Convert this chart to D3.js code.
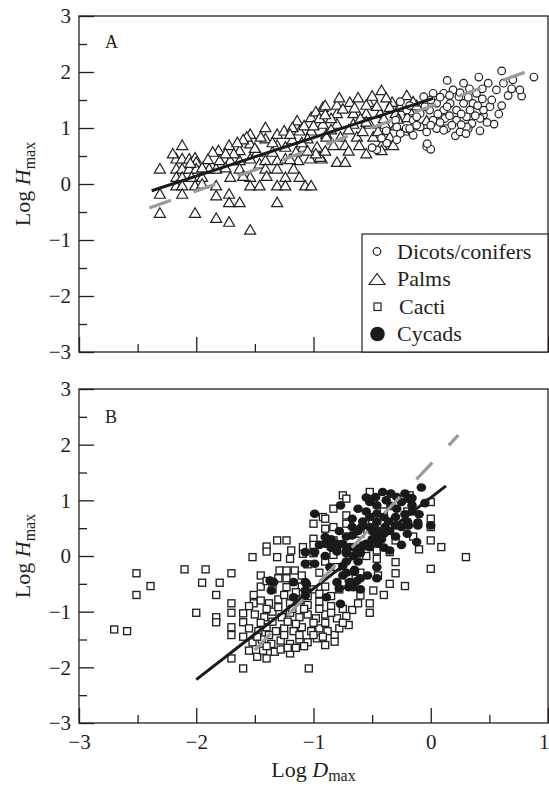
<!DOCTYPE html>
<html>
<head>
<meta charset="utf-8">
<script src="https://cdn.jsdelivr.net/npm/d3@7"></script>
<style>
  body { margin: 0; background: #fff; }
  text { font-family: "Liberation Serif", "Times New Roman", serif; fill: #231f20; }
</style>
</head>
<body>
<script>
// ---- data (log10 values) ----
const palms = [
  [-2.31,0.28],[-2.31,-0.17],[-2.31,-0.51],[-2.12,0.70],
  [-2.17,0.46],[-2.12,0.46],[-2.06,0.46],[-2.01,0.48],[-2.00,0.40],
  [-2.17,0.28],[-2.12,0.28],[-2.06,0.28],[-2.00,0.28],[-1.89,0.28],[-1.83,0.28],
  [-2.17,0.13],[-2.12,0.13],[-2.04,0.13],[-1.95,0.13],
  [-2.17,-0.02],[-2.12,-0.02],[-2.01,-0.02],[-1.95,0.01],[-1.83,-0.02],
  [-2.12,-0.17],[-1.83,-0.20],[-1.72,-0.17],[-1.72,-0.32],[-1.63,-0.32],[-1.31,-0.32],
  [-2.01,-0.51],[-1.83,-0.60],[-1.72,-0.67],[-1.54,-0.81],
  [-1.81,0.61],[-1.72,0.70],[-1.63,0.61],[-1.54,0.90],[-1.54,0.73],[-1.41,1.02],[-1.41,0.82],
  [-1.31,0.90],[-1.31,0.70],[-1.25,0.96],[-1.24,0.67],[-1.14,1.14],[-1.12,0.96],[-1.09,0.67],
  [-1.02,1.20],[-1.02,0.96],[-0.97,0.67],[-0.92,1.38],[-0.92,1.08],[-0.89,0.90],
  [-1.80,0.43],[-1.71,0.43],[-1.63,0.43],[-1.54,0.46],[-1.46,0.37],[-1.41,0.43],[-1.31,0.43],
  [-1.24,0.46],[-1.13,0.43],[-1.03,0.46],[-0.93,0.46],
  [-1.71,0.13],[-1.63,0.28],[-1.54,0.13],[-1.54,-0.02],[-1.46,-0.02],[-1.41,0.28],[-1.31,0.28],
  [-1.31,-0.02],[-1.24,0.13],[-1.24,-0.02],[-1.17,0.28],[-1.12,0.13],[-1.07,-0.02],[-1.02,-0.02],
  [-1.86,0.58],[-1.57,0.85],[-0.80,0.40],[-0.73,0.40],
  [-0.90,1.41],[-0.69,1.47],[-0.53,1.47],[-0.42,1.68],[-0.33,1.47],[-0.205,1.59],[-0.26,1.38],
  [-0.80,1.27],[-0.66,1.27],[-0.55,1.27],[-0.43,1.27],[-0.30,1.27],[-0.18,1.32],[-0.12,1.41],[-0.035,1.14],
  [-0.80,1.08],[-0.66,1.08],[-0.52,1.08],[-0.39,1.08],[-0.23,0.96],
  [-0.89,0.85],[-0.77,0.85],[-0.63,0.85],[-0.49,0.85],[-0.35,0.85],
  [-0.83,0.70],[-0.73,0.70],[-0.61,0.70],[-0.42,0.70],[-0.32,0.70],[-0.42,0.61],[-0.945,0.49],
  [-0.80,1.42],[-0.55,1.42],[-0.46,1.40],[-0.35,1.38],
  [-0.98,1.30],[-0.85,1.18],[-0.75,1.35],[-0.60,1.18],[-0.70,0.98],[-0.58,0.95],[-0.45,0.95],
  [-0.85,0.98],[-0.95,1.18],[-1.08,1.05],[-1.18,1.02],[-1.18,0.80],[-1.05,0.82],[-0.98,0.55],
  [-1.15,0.58],[-1.35,0.58],[-1.48,0.58],[-1.60,0.80],[-1.68,0.55],[-0.50,1.58],[-0.62,1.55],
  [-0.38,1.55],[-0.28,1.17],[-0.15,1.05],
  [-2.20,0.55],[-2.05,0.38],[-1.90,0.45],[-1.75,0.55],[-1.65,0.75],[-1.50,0.65],[-1.45,0.85],
  [-1.35,0.75],[-1.20,0.90],[-1.10,0.75],[-1.00,1.05],[-0.90,1.25],[-0.78,1.55],[-0.65,1.37],
  [-0.55,1.12],[-0.40,1.18],[-0.30,1.05],[-0.20,1.20],[-0.15,1.48],[-1.95,0.30],[-1.75,0.30],
  [-1.60,0.15],[-1.40,0.15],[-1.20,0.45],[-1.05,0.60],[-0.90,0.60],[-0.70,0.60],[-0.55,0.55]
];

const dicots = [
  [0.14,1.85],[0.41,1.91],[0.605,2.02],[0.88,1.91],[0.775,1.57],[0.605,1.40],[0.54,1.07],
  [0.21,0.86],[-0.035,0.67],[0.0,0.62],[-0.03,0.72],
  [0.28,1.80],[0.62,1.80],[0.56,1.68],[0.505,1.38],[0.45,1.23],[0.35,1.08],[0.32,0.99],
  [0.22,1.14],[0.135,0.99],[0.11,1.62],[0.02,1.62],[-0.06,1.56],[0.19,1.68],[0.39,1.62],
  [0.36,1.44],[0.28,1.44],[0.165,1.44],[0.05,1.44],[-0.01,1.32],[0.11,1.32],[0.22,1.32],
  [0.335,1.32],[0.45,1.32],[-0.09,1.26],[-0.15,1.14],[0.02,1.14],[0.12,1.17],[0.305,1.20],
  [-0.21,0.99],[-0.09,1.02],[0.05,0.99],[0.25,0.93],[-0.26,0.90],[-0.15,0.87],[-0.035,0.93],
  [0.11,0.96],[-0.30,1.14],[-0.29,0.79],[-0.375,0.73],[-0.46,0.61],[-0.205,1.32],[-0.26,1.47],
  [0.49,1.80],[0.70,1.86],[0.76,1.68],[0.42,1.17],[0.305,1.02],[-0.29,1.02],[-0.18,0.99],[-0.12,1.05],
  [0.0,1.50],[0.08,1.55],[0.16,1.58],[0.24,1.56],[0.32,1.55],[0.44,1.52],[0.06,1.25],[0.16,1.22],
  [0.26,1.25],[0.38,1.22],[0.0,1.05],[0.08,1.10],[0.18,1.05],[0.26,1.06],[-0.05,1.38],[0.14,1.38],
  [0.40,1.40],[0.52,1.50],[0.66,1.58],[0.58,1.25],[0.48,1.10],[0.44,1.70],[0.33,1.70],[0.25,1.63],
  [-0.12,1.20],[-0.18,1.40],[0.30,0.90],[0.42,0.95],[-0.38,0.95],[-0.42,0.82],[-0.50,0.65],[0.69,1.70]
];

const cacti = [
  [-2.70,-1.32],[-2.59,-1.35],[-2.51,-0.31],[-2.51,-0.70],[-2.39,-0.54],[-2.10,-0.24],[-1.92,-0.24],
  [-1.95,-0.48],[-1.80,-0.48],[-1.70,-0.31],[-2.00,-1.02],[-1.83,-0.70],[-1.83,-1.10],[-1.83,-1.19],
  [-1.70,-0.85],[-1.70,-1.02],[-1.70,-1.28],[-1.70,-1.42],[-1.70,-1.84],[-1.60,-2.02],[-1.60,-1.03],
  [-1.60,-1.19],[-1.51,-0.70],[-1.51,-0.85],[-1.52,-0.02],[-1.40,0.17],[-1.40,0.08],[-1.31,0.28],[-1.31,-0.02],
  [-1.04,-2.02],[-0.40,-0.70],[-0.52,-0.85],[-0.52,-1.02],[-0.67,-0.97],[-0.70,-1.24],[-0.82,-1.42],[-0.82,-1.54],
  [-1.23,0.28],[-1.19,0.10],[-1.09,0.16],[-1.00,0.31],[-1.00,0.58],[-0.92,0.70],[-0.83,0.52],[-0.83,0.85],[-0.75,1.09],
  [-1.29,-0.26],[-1.23,-0.26],[-1.16,-0.26],[-1.30,-0.40],[-1.23,-0.40],[-1.23,-0.56],
  [-1.48,-1.81],[-1.40,-1.84],[-1.20,-1.75],[-0.60,-0.71],[-0.49,-0.62],
  [-0.52,1.15],[-0.18,1.09],[0.0,0.97],[0.0,0.67],[0.0,0.52],[0.0,0.28],[0.09,0.16],[0.30,-0.02],
  [0.0,-0.23],[-0.10,0.12],[-0.30,0.28],[-0.30,-0.11],[-0.30,-0.31],[-0.35,0.07],[-0.22,-0.54],
  [-0.83,0.28],[-0.83,0.02],[-0.72,1.03],[-0.72,0.73],[-0.72,0.58],[-0.46,0.10],[-0.46,-0.05],
  [-0.90,0.67],[-0.90,0.49],[-1.09,0.04],[-1.00,0.20],[-1.00,0.05],
  [-1.45,-0.35],[-1.10,-0.35],[-0.95,-0.30],[-0.70,-0.40],
  [-1.45,-0.55],[-1.35,-0.60],[-1.10,-0.55],[-1.00,-0.60],[-0.90,-0.55],[-0.78,-0.60],[-0.66,-0.55],
  [-1.45,-0.80],[-1.38,-0.85],[-1.30,-0.78],[-1.20,-0.85],[-1.12,-0.80],[-1.05,-0.88],[-0.95,-0.82],
  [-0.85,-0.90],[-0.75,-0.95],[-0.62,-0.85],
  [-1.50,-1.05],[-1.42,-1.10],[-1.35,-1.00],[-1.27,-1.10],[-1.20,-1.02],[-1.12,-1.10],[-1.05,-1.05],
  [-0.98,-1.12],[-0.90,-1.05],[-0.80,-1.12],[-0.72,-1.08],
  [-1.55,-1.30],[-1.47,-1.35],[-1.40,-1.28],[-1.32,-1.35],[-1.25,-1.30],[-1.17,-1.35],[-1.10,-1.28],
  [-1.02,-1.35],[-0.95,-1.30],[-0.88,-1.35],[-0.78,-1.30],
  [-1.52,-1.55],[-1.44,-1.50],[-1.36,-1.58],[-1.28,-1.52],[-1.20,-1.58],[-1.12,-1.50],[-1.05,-1.55],
  [-0.97,-1.48],[-0.90,-1.60],[-1.43,-1.70],[-1.33,-1.72],[-1.28,-1.68],[-1.15,-1.65],
  [-1.20,-0.05],[-1.05,-0.15],[-0.90,-0.10],[-0.80,-0.20],[-0.60,-0.30],[-0.55,0.00],[-0.45,-0.35],
  [-0.35,-0.50],[-0.60,0.40],[-0.50,0.60],[-0.40,0.80],[-0.25,0.55],[-0.15,0.35],[-0.20,0.80],[-0.45,0.35],
  [-1.40,-0.45],[-1.25,-0.70],[-1.15,-0.65],[-1.05,-0.72],[-0.95,-0.68],[-0.85,-0.72],[-1.40,-0.95],
  [-1.30,-0.92],[-1.18,-0.95],[-1.08,-0.95],[-0.95,-0.95],[-0.85,-1.02],[-1.45,-1.20],[-1.35,-1.18],
  [-1.22,-1.18],[-1.15,-1.22],[-1.00,-1.20],[-0.90,-1.20],[-0.75,-1.20],[-1.48,-1.45],[-1.38,-1.42],
  [-1.25,-1.42],[-1.12,-1.42],[-1.00,-1.42],[-0.92,-1.45],[-1.40,-1.62],[-1.22,-1.65],[-1.08,-1.62],
  [-1.55,-0.90],[-1.60,-1.45],[-1.55,-1.70]
];

const cycads = [
  [-0.08,1.23],[-0.41,1.15],[-0.47,1.06],[-0.77,0.91],[-0.99,0.76],[-0.29,1.06],[-0.19,1.03],[-0.16,1.04],
  [-0.67,0.67],[-0.59,0.52],[-0.67,0.52],[-0.67,0.37],
  [-0.46,0.91],[-0.46,0.76],[-0.46,0.61],[-0.46,0.46],[-0.46,0.34],
  [-0.52,0.70],[-0.52,0.52],[-0.40,0.70],[-0.39,0.52],[-0.40,0.40],
  [-0.29,0.85],[-0.25,0.52],[-0.19,0.55],[-0.16,0.91],[-0.16,0.80],
  [-0.11,0.55],[0.0,0.55],[-0.12,0.25],
  [-0.90,0.34],[-0.90,0.22],[-0.99,0.07],[-0.99,-0.14],[-1.07,0.07],[-1.07,-0.14],
  [-0.80,0.22],[-0.75,0.22],[-0.66,0.16],[-0.58,0.19],[-0.52,0.16],[-0.60,0.05],[-0.66,0.00],
  [-1.34,-0.47],[-1.17,-0.47],[-1.07,-0.47],[-0.80,-0.47],[-0.69,-0.47],
  [-1.37,-0.44],[-1.36,-0.62],[-1.06,-0.50],[-1.07,-0.62],[-1.07,-0.71],[-1.17,-0.74],[-0.89,-0.74],[-0.77,-0.86],
  [-0.80,0.16],[-0.69,0.16],[-0.60,0.14],[-0.72,0.05],[-0.62,-0.10],[-0.72,-0.10],[-0.65,-0.25],
  [-0.75,-0.35],[-0.60,-0.40],[-0.66,-0.56],
  [-0.62,0.85],[-0.52,0.97],[-0.34,0.90],[-0.25,0.97],[-0.36,0.62],[-0.30,0.55],[-0.20,0.62],[-0.11,0.60],
  [-0.85,0.15],[-0.80,0.08],[-0.72,0.10],[-0.64,0.14],[-0.55,0.22],[-0.45,0.22],
  [-0.86,-0.20],[-0.75,-0.18],[-0.72,-0.30],[-0.65,-0.28],[-0.63,-0.45],[-0.54,-0.35],[-0.46,-0.20],
  [-0.46,-0.40],[-0.60,-0.60],[-0.70,-0.56],[-0.78,-0.58],[-0.90,0.00],[-0.35,0.10],[-0.25,0.20],
  [-0.55,0.80],[-0.58,0.62],[-0.50,0.45],[-0.42,0.30],[-0.35,0.45],[-0.30,0.70],[-0.22,0.75],
  [-0.38,1.00],[-0.55,1.05],[-0.62,0.45],[-0.72,0.35],[-0.78,0.45],[-0.85,0.30],[-0.95,0.20],
  [-0.50,0.30],[-0.40,0.15],[-0.30,0.35],[-0.20,0.40],[-0.10,0.75],[-0.05,0.95],[-0.22,1.12],[-0.34,1.12]
];

// fitted lines (end points)
const palmFit = [[-2.38,-0.12],[0.02,1.53]];
const dicotFit = [[-2.40,-0.43],[0.875,2.05]];
const cactusFit = [[-2.00,-2.22],[0.13,1.26]];
const cycadFit = [[-1.50,-1.69],[0.235,2.17]];

const yTicks = [-3,-2,-1,0,1,2,3];
const yMinor = [-2.5,-1.5,-0.5,0.5,1.5,2.5];
const xTicks = [-3,-2,-1,0,1];
const xMinor = [-2.5,-1.5,-0.5,0.5];
const legendItems = ['Dicots/conifers','Palms','Cacti','Cycads'];

// ---- layout ----
const width = 549, height = 787;
const left = 79, right = 548;
const ink = '#231f20';

const svg = d3.select('body').append('svg')
  .attr('width', width)
  .attr('height', height);

const x = d3.scaleLinear().domain([-3, 1]).range([left, right]);
const yA = d3.scaleLinear().domain([-3, 3]).range([352, 16]);
const yB = d3.scaleLinear().domain([-3, 3]).range([723, 389]);
const fmt = d3.format('d');

const tri = (cx, cy, w, h) =>
  `M${cx - w / 2},${cy + h / 2}L${cx},${cy - h / 2}L${cx + w / 2},${cy + h / 2}Z`;

function drawAxes(y, showX) {
  const g = svg.append('g');
  g.append('g')
    .attr('transform', `translate(${left},0)`)
    .call(d3.axisLeft(y).tickValues(yTicks).tickSize(-15).tickPadding(8).tickFormat(fmt));
  g.append('g')
    .attr('transform', `translate(${left},0)`)
    .call(d3.axisLeft(y).tickValues(yMinor).tickSize(-8).tickFormat(''));
  const xAxis = g.append('g')
    .attr('transform', `translate(0,${y.range()[0]})`)
    .call(d3.axisBottom(x).tickValues(xTicks).tickSize(-15).tickPadding(11)
      .tickFormat(showX ? fmt : ''));
  // the last label sits on the page edge
  xAxis.selectAll('.tick text').filter(d => d === 1)
    .attr('text-anchor', 'end').attr('x', 1);
  g.append('g')
    .attr('transform', `translate(0,${y.range()[0]})`)
    .call(d3.axisBottom(x).tickValues(xMinor).tickSize(-8).tickFormat(''));
  g.selectAll('.domain').remove();
  g.selectAll('.tick line').attr('stroke', ink).attr('stroke-width', 1.3);
  g.selectAll('.tick text')
    .style('font-family', '"Liberation Serif", serif')
    .style('font-size', '21px')
    .attr('fill', ink);
  g.append('rect')
    .attr('x', left).attr('y', y.range()[1])
    .attr('width', right - left).attr('height', y.range()[0] - y.range()[1])
    .attr('fill', 'none').attr('stroke', ink).attr('stroke-width', 1.3);

  // y title: Log H_max
  const t = svg.append('text')
    .attr('transform', `translate(30,${(y.range()[0] + y.range()[1]) / 2}) rotate(-90)`)
    .attr('text-anchor', 'middle')
    .style('font-size', '22px');
  t.append('tspan').text('Log ');
  t.append('tspan').style('font-style', 'italic').text('H');
  t.append('tspan').attr('dy', '0.3em').style('font-size', '16px').text('max');
}

const line = y => d3.line().x(d => x(d[0])).y(d => y(d[1]));

// ---- panel A ----
drawAxes(yA, false);

svg.append('g').selectAll('path').data(palms).join('path')
  .attr('d', d => tri(x(d[0]), yA(d[1]), 11, 9.5))
  .attr('fill', '#fff').attr('stroke', ink).attr('stroke-width', 1.2);

svg.append('g').selectAll('circle').data(dicots).join('circle')
  .attr('cx', d => x(d[0])).attr('cy', d => yA(d[1])).attr('r', 3.8)
  .attr('fill', '#fff').attr('stroke', ink).attr('stroke-width', 1.2);

svg.append('path').datum(dicotFit).attr('d', line(yA))
  .attr('fill', 'none').attr('stroke', '#9a9a9a').attr('stroke-width', 3.2)
  .attr('stroke-dasharray', '23,24');
svg.append('path').datum(palmFit).attr('d', line(yA))
  .attr('fill', 'none').attr('stroke', '#1a1a1a').attr('stroke-width', 3);

svg.append('text').attr('x', 105).attr('y', 48).style('font-size', '18px').text('A');

// legend
const lg = svg.append('g');
lg.append('rect').attr('x', 362).attr('y', 234).attr('width', 186).attr('height', 118)
  .attr('fill', '#fff').attr('stroke', ink).attr('stroke-width', 1.2);
const rowY = d3.scalePoint().domain(legendItems).range([251.5, 334]);
lg.append('circle').attr('cx', 377).attr('cy', rowY('Dicots/conifers')).attr('r', 3.8)
  .attr('fill', '#fff').attr('stroke', ink).attr('stroke-width', 1.2);
lg.append('path').attr('d', tri(377, rowY('Palms'), 16, 11))
  .attr('fill', '#fff').attr('stroke', ink).attr('stroke-width', 1.2);
lg.append('rect').attr('x', 374).attr('y', rowY('Cacti') - 3.5).attr('width', 7).attr('height', 7.5)
  .attr('fill', '#fff').attr('stroke', ink).attr('stroke-width', 1.2);
lg.append('circle').attr('cx', 377.5).attr('cy', rowY('Cycads')).attr('r', 7.3).attr('fill', '#1a1a1a');
lg.selectAll('text').data(legendItems).join('text')
  .attr('x', (d, i) => i === 2 ? 399 : 397)
  .attr('y', d => rowY(d)).attr('dy', '0.33em')
  .style('font-size', '22px')
  .text(d => d);

// ---- panel B ----
drawAxes(yB, true);

svg.append('g').selectAll('rect').data(cacti).join('rect')
  .attr('x', d => x(d[0]) - 3.5).attr('y', d => yB(d[1]) - 3.5)
  .attr('width', 7).attr('height', 7)
  .attr('fill', '#fff').attr('stroke', ink).attr('stroke-width', 1.35);

svg.append('g').selectAll('ellipse').data(cycads).join('ellipse')
  .attr('cx', d => x(d[0])).attr('cy', d => yB(d[1]))
  .attr('rx', 4.8).attr('ry', 4.3)
  .attr('fill', '#1a1a1a');

svg.append('path').datum(cactusFit).attr('d', line(yB))
  .attr('fill', 'none').attr('stroke', '#1a1a1a').attr('stroke-width', 3);
svg.append('path').datum(cycadFit).attr('d', line(yB))
  .attr('fill', 'none').attr('stroke', '#9a9a9a').attr('stroke-width', 3.2)
  .attr('stroke-dasharray', '23,24');

svg.append('text').attr('x', 105).attr('y', 423).style('font-size', '18px').text('B');

// x title: Log D_max
const xt = svg.append('text')
  .attr('x', (left + right) / 2).attr('y', 777)
  .attr('text-anchor', 'middle')
  .style('font-size', '22px');
xt.append('tspan').text('Log ');
xt.append('tspan').style('font-style', 'italic').text('D');
xt.append('tspan').attr('dy', '4').style('font-size', '16px').text('max');
</script>
</body>
</html>
